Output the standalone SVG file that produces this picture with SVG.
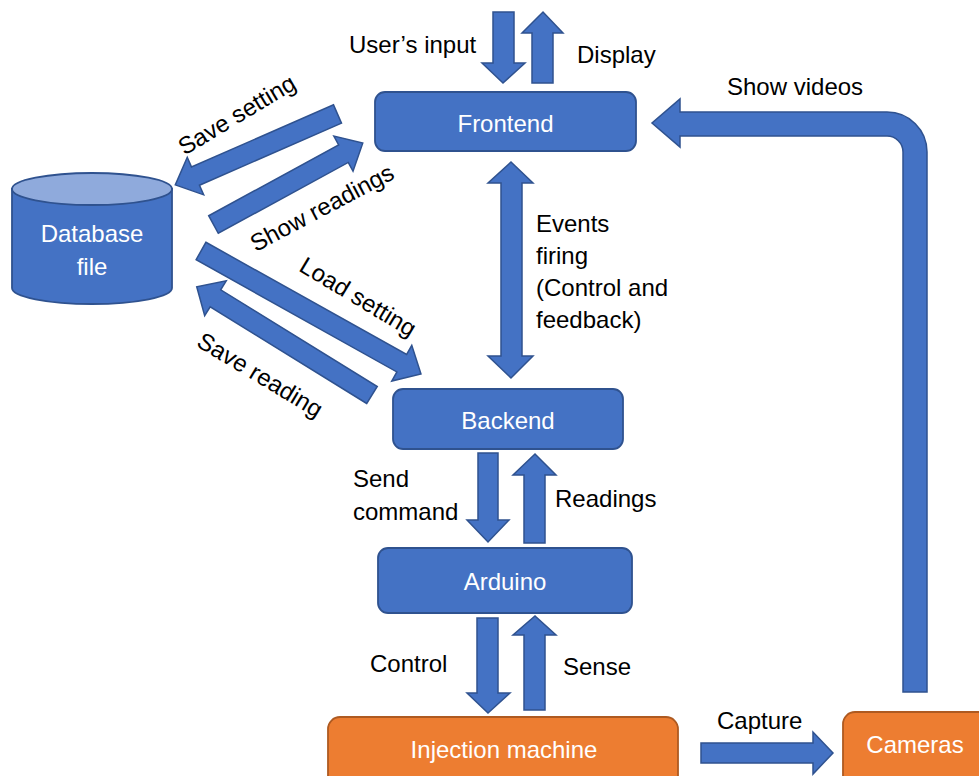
<svg xmlns="http://www.w3.org/2000/svg" width="979" height="776" viewBox="0 0 979 776">
<style>
.blue{fill:#4472C4;stroke:#2F528F;stroke-width:1.8}
.orange{fill:#ED7D31;stroke:#AE5A21;stroke-width:1.8}
.arr{fill:#4472C4;stroke:#2F528F;stroke-width:1.5;stroke-linejoin:miter}
text{font-family:"Liberation Sans",Arial,sans-serif;font-size:24px}
.w{fill:#ffffff;text-anchor:middle}
.k{fill:#000000}
.c{text-anchor:middle}
</style>
<defs>
<polygon id="dg" points="0,-10 -22,-10 -22,-20.5 0,0 -22,20.5 -22,10"/>
</defs>
<rect width="979" height="776" fill="#ffffff"/>
<g id="connectors">
<!-- User's input -->
<polygon class="arr" points="493,12 514,12 514,63 525,63 503,83 482,63 493,63"/>
<!-- Display -->
<polygon class="arr" points="532,83 553,83 553,33 563,33 543,12 522,33 532,33"/>
<!-- Save setting -->
<polygon class="arr" transform="translate(337.5,114) rotate(156.4)" points="0,-10 155,-10 155,-20.5 177,0 155,20.5 155,10 0,10"/>
<!-- Show readings -->
<polygon class="arr" transform="translate(213.5,224.5) rotate(-28.6)" points="0,-10 148,-10 148,-20 170,0 148,20 148,10 0,10"/>
<!-- Load setting -->
<polygon class="arr" transform="translate(201,251) rotate(29.2)" points="0,-10 230,-10 230,-20.5 252,0 230,20.5 230,10 0,10"/>
<!-- Save reading -->
<polygon class="arr" transform="translate(372,395) rotate(-148.3)" points="0,-10 184,-10 184,-20.5 206,0 184,20.5 184,10 0,10"/>
<!-- Events firing double -->
<polygon class="arr" points="511,162 533,183 522,183 522,356 533,356 511,378 488,356 501,356 501,183 488,183"/>
<!-- Show videos -->
<path class="arr" d="M680,112 L887,112 A40,40 0 0 1 927,152 L927,692 L903,692 L903,152 A16,16 0 0 0 887,136 L680,136 L680,147 L652,123 L680,99 Z"/>
<!-- Send command -->
<polygon class="arr" points="478,453 498,453 498,520 509,520 488,542 467,520 478,520"/>
<!-- Readings -->
<polygon class="arr" points="524,543 545,543 545,475 556,475 535,454 513,475 524,475"/>
<!-- Control -->
<polygon class="arr" points="477,618 498,618 498,693 510,693 488,713 467,693 477,693"/>
<!-- Sense -->
<polygon class="arr" points="524,710 545,710 545,635 556,635 535,616 513,635 524,635"/>
<!-- Capture -->
<polygon class="arr" points="701,743 813,743 813,732 833,753 813,774 813,763 701,763"/>
</g>
<g id="labels">
<text class="k" x="349" y="53">User’s input</text>
<text class="k" x="577" y="63">Display</text>
<text class="k" x="727" y="95">Show videos</text>
<text class="k c" transform="translate(237,115) rotate(-31)" y="8">Save setting</text>
<text class="k c" transform="translate(322,208) rotate(-28)" y="8">Show readings</text>
<text class="k c" transform="translate(358,297) rotate(31)" y="8">Load setting</text>
<text class="k c" transform="translate(260,375) rotate(31)" y="8">Save reading</text>
<text class="k" x="536" y="232">Events</text>
<text class="k" x="536" y="264">firing</text>
<text class="k" x="536" y="296">(Control and</text>
<text class="k" x="536" y="328">feedback)</text>
<text class="k" x="353" y="487">Send</text>
<text class="k" x="353" y="520">command</text>
<text class="k" x="555" y="507">Readings</text>
<text class="k" x="370" y="672">Control</text>
<text class="k" x="563" y="675">Sense</text>
<text class="k" x="717" y="729">Capture</text>
</g>
<g id="frontend">
<rect class="blue" x="375" y="92" width="261" height="59" rx="10"/>
<text class="w" x="505.5" y="132">Frontend</text>
</g>
<g id="database">
<path class="blue" d="M12,189 L12,288 A80,16 0 0 0 172,288 L172,189 Z"/>
<ellipse cx="92" cy="189" rx="80" ry="16" fill="#8FAADC" stroke="#2F528F" stroke-width="1.8"/>
<text class="w" x="92" y="242">Database</text>
<text class="w" x="92" y="275">file</text>
</g>
<g id="backend">
<rect class="blue" x="393" y="389" width="230" height="60" rx="10"/>
<text class="w" x="508" y="429">Backend</text>
</g>
<g id="arduino">
<rect class="blue" x="378" y="548" width="254" height="65" rx="10"/>
<text class="w" x="505" y="590">Arduino</text>
</g>
<g id="injection">
<rect class="orange" x="328" y="717" width="350" height="80" rx="12"/>
<text class="w" x="504" y="758">Injection machine</text>
</g>
<g id="cameras">
<rect class="orange" x="843" y="712" width="160" height="80" rx="12"/>
<text class="w" x="915" y="753">Cameras</text>
</g>
</svg>
